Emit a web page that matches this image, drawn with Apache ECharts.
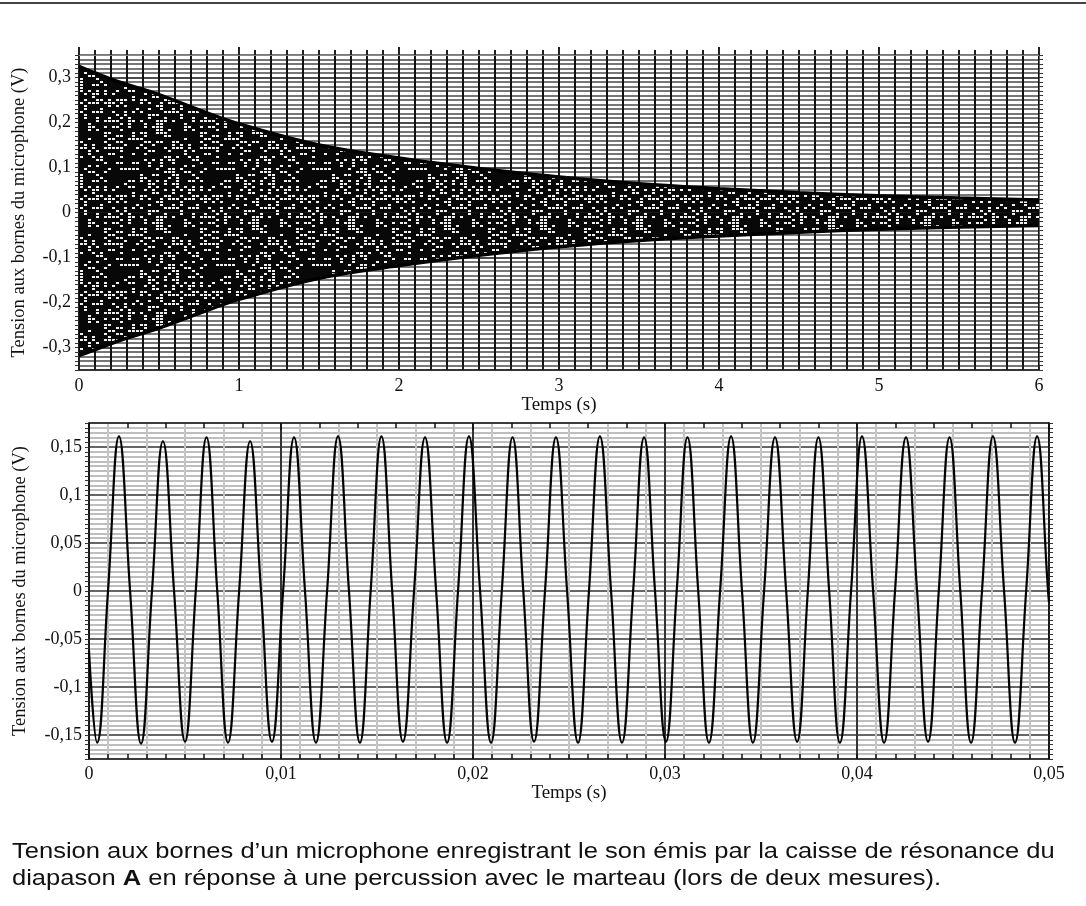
<!DOCTYPE html>
<html>
<head>
<meta charset="utf-8">
<script src="https://cdn.jsdelivr.net/npm/echarts@6/dist/echarts.min.js"></script>
<style>
html,body{margin:0;padding:0;background:#fff;}
#chart{width:1086px;height:906px;}
</style>
</head>
<body>
<div id="chart"></div>
<script>
// ---- Top panel: envelope of the decaying signal ----
const envT     = [0, 0.1, 0.25, 0.5, 0.75, 1, 1.5, 2, 2.5, 3, 3.5, 4, 4.5, 5, 5.5, 6];
const envUpper = [0.325, 0.31, 0.29, 0.262, 0.228, 0.197, 0.150, 0.121, 0.098, 0.079, 0.064, 0.053, 0.044, 0.037, 0.032, 0.028];
const envLower = [-0.318, -0.305, -0.285, -0.257, -0.224, -0.193, -0.146, -0.118, -0.095, -0.076, -0.062, -0.052, -0.044, -0.037, -0.032, -0.029];

// ---- Bottom panel: sine-like signal, extrema and zero crossings ----
const startPoint = [0, -0.062];
const endPoint   = [0.05, -0.012];
const troughT = [0.00042, 0.00271, 0.00500, 0.00724, 0.00953, 0.01182, 0.01411, 0.01635, 0.01865, 0.02094, 0.02318, 0.02547, 0.02776, 0.03005, 0.03229, 0.03458, 0.03688, 0.03911, 0.04141, 0.04370, 0.04594, 0.04823];
const troughV = [-0.158, -0.159, -0.157, -0.158, -0.157, -0.158, -0.158, -0.157, -0.158, -0.158, -0.157, -0.158, -0.158, -0.157, -0.158, -0.158, -0.157, -0.158, -0.158, -0.157, -0.158, -0.158];
const peakT = [0.00156, 0.00385, 0.00612, 0.00839, 0.01068, 0.01297, 0.01523, 0.01750, 0.01979, 0.02206, 0.02432, 0.02661, 0.02891, 0.03117, 0.03344, 0.03573, 0.03799, 0.04026, 0.04255, 0.04482, 0.04708, 0.04938];
const peakV = [0.161, 0.156, 0.160, 0.156, 0.160, 0.161, 0.161, 0.160, 0.161, 0.160, 0.160, 0.161, 0.160, 0.160, 0.161, 0.160, 0.160, 0.161, 0.160, 0.160, 0.161, 0.161];
const zeroT = [0.00099, 0.00214, 0.00328, 0.00443, 0.00556, 0.00668, 0.00782, 0.00896, 0.01011, 0.01125, 0.01240, 0.01354, 0.01467, 0.01579, 0.01693, 0.01808, 0.01922, 0.02037, 0.02150, 0.02262, 0.02375, 0.02490, 0.02604, 0.02719, 0.02834, 0.02948, 0.03061, 0.03173, 0.03287, 0.03401, 0.03516, 0.03631, 0.03744, 0.03855, 0.03969, 0.04084, 0.04198, 0.04313, 0.04426, 0.04538, 0.04651, 0.04766, 0.04881, 0.04995];

// ---- Tick labels ----
const topXLabels = ['0', '1', '2', '3', '4', '5', '6'];
const topYLabels = ['-0,3', '-0,2', '-0,1', '0', '0,1', '0,2', '0,3'];
const botXLabels = ['0', '0,01', '0,02', '0,03', '0,04', '0,05'];
const botYLabels = ['-0,15', '-0,1', '-0,05', '0', '0,05', '0,1', '0,15'];

const captionLine1 = 'Tension aux bornes d’un microphone enregistrant le son émis par la caisse de résonance du';
const captionLine2a = 'diapason ';
const captionLine2b = 'A';
const captionLine2c = ' en réponse à une percussion avec le marteau (lors de deux mesures).';
const yTitle = 'Tension aux bornes du microphone (V)';
const xTitle = 'Temps (s)';

// ---- build data tables ----
const upperData = envT.map((t, i) => [t, envUpper[i]]);
const lowerData = envT.map((t, i) => [t, envLower[i]]);
const sinePts = [startPoint, endPoint]
  .concat(troughT.map((t, i) => [t, troughV[i]]))
  .concat(peakT.map((t, i) => [t, peakV[i]]))
  .concat(zeroT.map(t => [t, 0]))
  .sort((a, b) => a[0] - b[0]);

const SERIF = '"Liberation Serif", "DejaVu Serif", serif';

// speckled dark texture for the dense band (decorative fill, deterministic hash)
function makeTexture() {
  const W = 96, H = 96;
  const c = document.createElement('canvas');
  c.width = W; c.height = H;
  const g = c.getContext('2d');
  g.fillStyle = '#080808';
  g.fillRect(0, 0, W, H);
  g.fillStyle = '#f0f0f0';
  for (let y = 0; y < H; y += 3) {
    for (let x = 0; x < W; x += 4) {
      let h = (Math.imul(x + 17, 374761393) ^ Math.imul(y + 31, 668265263)) >>> 0;
      h = Math.imul(h ^ (h >>> 13), 1274126177) >>> 0;
      if ((h % 100) < 30) g.fillRect(x, y, 3, 2);
    }
  }
  return c;
}
const texture = makeTexture();

function labelPicker(step, labels, base) {
  return function (v) {
    const k = Math.round(v / step);
    if (Math.abs(k * step - v) > step * 1e-3) return '';
    const idx = k - base;
    return labels[idx] !== undefined ? labels[idx] : '';
  };
}

function cyc(n, fn) { const a = []; for (let i = 0; i < n; i++) a.push(fn(i)); return a; }

const chart = echarts.init(document.getElementById('chart'), null, { renderer: 'canvas' });

const option = {
  animation: false,
  backgroundColor: '#ffffff',
  grid: [
    { left: 79, top: 55, width: 960, height: 315 },
    { left: 89, top: 423, width: 960, height: 336 }
  ],
  xAxis: [
    { // top panel bottom axis
      gridIndex: 0, type: 'value', min: 0, max: 6, interval: 0.1, position: 'bottom',
      axisLine: { show: true, onZero: false, lineStyle: { color: '#222', width: 1.5 } },
      axisTick: { show: true, inside: true, length: 5, lineStyle: { color: '#222', width: 1.5 } },
      axisLabel: { margin: 7, fontFamily: SERIF, fontSize: 18, color: '#111', formatter: labelPicker(1, topXLabels, 0), showMinLabel: true, showMaxLabel: true },
      splitLine: { show: true, lineStyle: { color: '#111', width: 2 } },
      name: xTitle, nameLocation: 'middle', nameGap: 23,
      nameTextStyle: { fontFamily: SERIF, fontSize: 19, color: '#111' }
    },
    { // top panel top axis (ticks only)
      gridIndex: 0, type: 'value', min: 0, max: 6, interval: 1, position: 'top',
      axisLine: { show: true, onZero: false, lineStyle: { color: '#888', width: 1 } },
      axisTick: { show: true, inside: false, length: 8, lineStyle: { color: '#222', width: 2 } },
      minorTick: { show: true, splitNumber: 10, length: 5, lineStyle: { color: '#222', width: 2 } },
      axisLabel: { show: false }, splitLine: { show: false }
    },
    { // bottom panel bottom axis
      gridIndex: 1, type: 'value', min: 0, max: 0.05, interval: 0.001, position: 'bottom',
      axisLine: { show: true, onZero: false, lineStyle: { color: '#111', width: 1.5 } },
      axisTick: { show: true, inside: true, length: 5, lineStyle: { color: '#111', width: 1.5 } },
      axisLabel: { margin: 6, fontFamily: SERIF, fontSize: 18, color: '#111', formatter: labelPicker(0.01, botXLabels, 0) },
      splitLine: { show: true, lineStyle: { width: 2, color: cyc(10, i => i === 0 ? '#333' : (i % 2 === 1 ? '#c4c4c4' : 'rgba(0,0,0,0)')) } },
      name: xTitle, nameLocation: 'middle', nameGap: 22,
      nameTextStyle: { fontFamily: SERIF, fontSize: 19, color: '#111' }
    },
    { // bottom panel top axis
      gridIndex: 1, type: 'value', min: 0, max: 0.05, interval: 0.01, position: 'top',
      axisLine: { show: true, onZero: false, lineStyle: { color: '#111', width: 1.5 } },
      axisTick: { show: true, inside: true, length: 7, lineStyle: { color: '#111', width: 1.5 } },
      minorTick: { show: true, splitNumber: 5, length: 5, lineStyle: { color: '#111', width: 1.5 } },
      axisLabel: { show: false }, splitLine: { show: false }
    }
  ],
  yAxis: [
    { // top panel left
      gridIndex: 0, type: 'value', min: -0.35, max: 0.35, interval: 0.01, position: 'left',
      axisLine: { show: true, onZero: false, lineStyle: { color: '#222', width: 1.5 } },
      axisTick: { show: true, inside: false, length: 4, lineStyle: { color: '#333', width: 1 } },
      axisLabel: { margin: 8, fontFamily: SERIF, fontSize: 18, color: '#111', formatter: labelPicker(0.1, topYLabels, -3) },
      splitLine: { show: true, lineStyle: { width: 1.6, color: cyc(10, i => i === 5 ? '#111' : '#4a4a4a') } },
      name: yTitle, nameLocation: 'middle', nameGap: 50, nameRotate: 90,
      nameTextStyle: { fontFamily: SERIF, fontSize: 18.5, color: '#111' }
    },
    { // top panel right
      gridIndex: 0, type: 'value', min: -0.35, max: 0.35, interval: 0.01, position: 'right',
      axisLine: { show: true, onZero: false, lineStyle: { color: '#666', width: 1 } },
      axisTick: { show: true, inside: false, length: 4, lineStyle: { color: '#333', width: 1 } },
      axisLabel: { show: false }, splitLine: { show: false }
    },
    { // bottom panel left
      gridIndex: 1, type: 'value', min: -0.175, max: 0.175, interval: 0.005, position: 'left',
      axisLine: { show: true, onZero: false, lineStyle: { color: '#111', width: 1.5 } },
      axisTick: { show: true, inside: false, length: 4, lineStyle: { color: '#333', width: 1 } },
      axisLabel: { margin: 7, fontFamily: SERIF, fontSize: 18, color: '#111', formatter: labelPicker(0.05, botYLabels, -3) },
      splitLine: { show: true, lineStyle: { width: 1.6, color: cyc(10, i => i === 5 ? '#333' : '#a8a8a8') } },
      name: yTitle, nameLocation: 'middle', nameGap: 59, nameRotate: 90,
      nameTextStyle: { fontFamily: SERIF, fontSize: 18.5, color: '#111' }
    },
    { // bottom panel right
      gridIndex: 1, type: 'value', min: -0.175, max: 0.175, interval: 0.005, position: 'right',
      axisLine: { show: true, onZero: false, lineStyle: { color: '#111', width: 1.5 } },
      axisTick: { show: true, inside: false, length: 4, lineStyle: { color: '#333', width: 1 } },
      axisLabel: { show: false }, splitLine: { show: false }
    }
  ],
  series: [
    {
      name: 'upper', type: 'line', xAxisIndex: 0, yAxisIndex: 0, data: upperData,
      smooth: 0.4, showSymbol: false, symbol: 'none',
      lineStyle: { color: '#000', width: 3.5 },
      areaStyle: { color: { image: texture, repeat: 'repeat' }, opacity: 1, origin: 0 }
    },
    {
      name: 'lower', type: 'line', xAxisIndex: 0, yAxisIndex: 0, data: lowerData,
      smooth: 0.4, showSymbol: false, symbol: 'none',
      lineStyle: { color: '#000', width: 3.5 },
      areaStyle: { color: { image: texture, repeat: 'repeat' }, opacity: 1, origin: 0 }
    },
    {
      name: 'signal', type: 'line', xAxisIndex: 2, yAxisIndex: 2, data: sinePts,
      smooth: 0.45, showSymbol: false, symbol: 'none',
      lineStyle: { color: '#000', width: 2.2 }
    }
  ],
  graphic: [
    { type: 'rect', shape: { x: 0, y: 2, width: 1086, height: 2 }, style: { fill: '#444' } },
    {
      type: 'text', x: 12, y: 852, scaleX: 1.16,
      style: { text: captionLine1, font: '22px "Liberation Sans", Arial, sans-serif', fill: '#111', verticalAlign: 'middle' }
    },
    {
      type: 'text', x: 12, y: 879, scaleX: 1.16,
      style: {
        text: captionLine2a + '{b|' + captionLine2b + '}' + captionLine2c,
        font: '22px "Liberation Sans", Arial, sans-serif', fill: '#111', verticalAlign: 'middle',
        rich: { b: { fontWeight: 'bold', fontSize: 22, fontFamily: '"Liberation Sans", Arial, sans-serif', fill: '#111' } }
      }
    }
  ]
};
chart.setOption(option);
</script>
</body>
</html>
